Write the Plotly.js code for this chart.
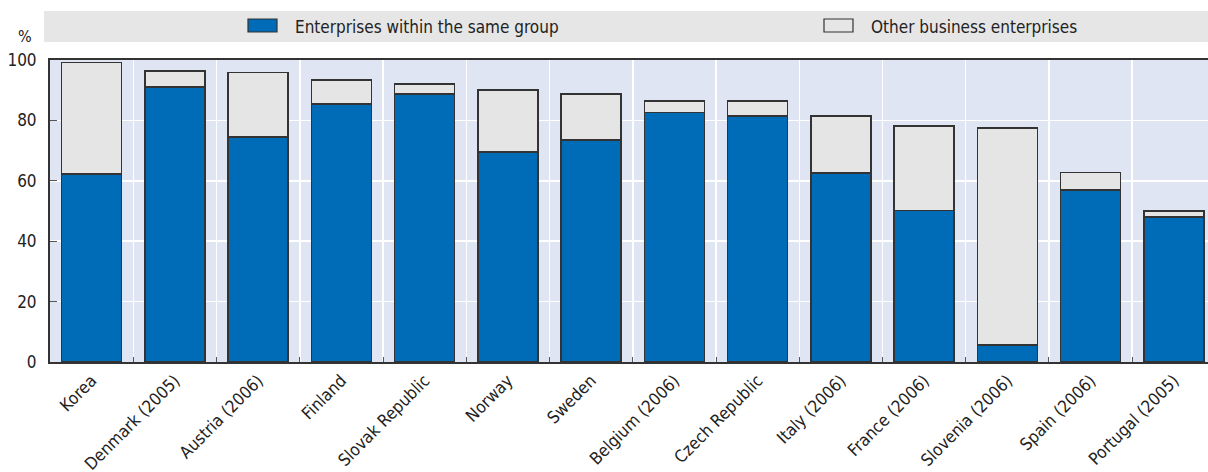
<!DOCTYPE html>
<html>
<head>
<meta charset="utf-8">
<script src="https://cdn.plot.ly/plotly-3.0.1.min.js"></script>
<style>html,body{margin:0;padding:0;background:#fff;}#chart{width:1208px;height:472px;}</style>
</head>
<body>
<div id="chart"></div>
<script>
const categories = ["Korea","Denmark (2005)","Austria (2006)","Finland","Slovak Republic","Norway","Sweden","Belgium (2006)","Czech Republic","Italy (2006)","France (2006)","Slovenia (2006)","Spain (2006)","Portugal (2005)"];
const sameGroup = [62.3, 91.0, 74.5, 85.5, 88.8, 69.5, 73.5, 82.6, 81.5, 62.6, 50.2, 5.6, 57.0, 48.0];
const otherBusiness = [36.8, 5.4, 21.3, 7.8, 3.3, 20.6, 15.3, 3.9, 4.9, 18.9, 28.0, 71.9, 5.7, 2.0];
const seriesNames = ["Enterprises within the same group", "Other business enterprises"];
const yTicks = [0, 20, 40, 60, 80, 100];

const FONT = '"Liberation Sans Narrow", "DejaVu Sans Condensed", Arial, sans-serif';
const BLUE = '#006bb6';
const GREY = '#e5e5e5';
const LINE = '#333333';

const traces = [
  {type:'bar', name:seriesNames[0], x:categories, y:sameGroup,
   marker:{color:BLUE, line:{color:LINE, width:1.5}}, showlegend:false, hoverinfo:'x+y'},
  {type:'bar', name:seriesNames[1], x:categories, y:otherBusiness,
   marker:{color:GREY, line:{color:LINE, width:1.5}}, showlegend:false, hoverinfo:'x+y'}
];

// paper coordinate helpers (plot area: left 50px, top 60px, width 1158px, height 302px)
const L=50, T=60, W=1158, H=302;
const px = v => (v - L)/W;
const py = v => (T + H - v)/H;

const layout = {
  width:1208, height:472,
  margin:{l:L, r:0, t:T, b:472-T-H, pad:0},
  barmode:'stack', bargap:0.28,
  paper_bgcolor:'#ffffff', plot_bgcolor:'#dfe5f3',
  font:{family:FONT, size:16, color:'#222'},
  xaxis:{type:'category', range:[-0.5, 13.41], tickson:'boundaries',
    showgrid:true, gridcolor:'#ffffff', gridwidth:1.5,
    ticks:'inside', ticklen:5, tickcolor:'#555', tickwidth:1,
    showline:true, linecolor:LINE, linewidth:2, mirror:true,
    tickangle:-45, tickfont:{family:FONT, size:17, color:'#222'}, fixedrange:true},
  yaxis:{range:[0,100], tickvals:yTicks, showgrid:true, gridcolor:'#ffffff', gridwidth:1.5,
    ticks:'inside', ticklen:7, tickcolor:'#555', tickwidth:1,
    showline:true, linecolor:LINE, linewidth:2, mirror:false, zeroline:false,
    tickfont:{family:FONT, size:17, color:'#222'}, ticklabelstandoff:8, fixedrange:true},
  shapes:[
    {type:'rect', xref:'paper', yref:'paper', x0:px(44), x1:px(1210), y0:py(42), y1:py(11),
     fillcolor:'#e6e6e6', line:{width:0}, layer:'below'},
    {type:'rect', xref:'paper', yref:'paper', x0:px(248), x1:px(277), y0:py(32), y1:py(19),
     fillcolor:BLUE, line:{color:LINE, width:1.2}},
    {type:'rect', xref:'paper', yref:'paper', x0:px(824), x1:px(853), y0:py(32), y1:py(19),
     fillcolor:'#e6e6e6', line:{color:LINE, width:1.2}}
  ],
  annotations:[
    {xref:'paper', yref:'paper', x:px(293), y:py(26.5), xanchor:'left', yanchor:'middle',
     text:seriesNames[0], showarrow:false, font:{family:FONT, size:17, color:'#222'}},
    {xref:'paper', yref:'paper', x:px(869), y:py(26.5), xanchor:'left', yanchor:'middle',
     text:seriesNames[1], showarrow:false, font:{family:FONT, size:17, color:'#222'}},
    {xref:'paper', yref:'paper', x:px(34), y:py(36), xanchor:'right', yanchor:'middle',
     text:'%', showarrow:false, font:{family:FONT, size:16, color:'#222'}}
  ]
};

Plotly.newPlot('chart', traces, layout, {displayModeBar:false, staticPlot:true});
</script>
</body>
</html>
